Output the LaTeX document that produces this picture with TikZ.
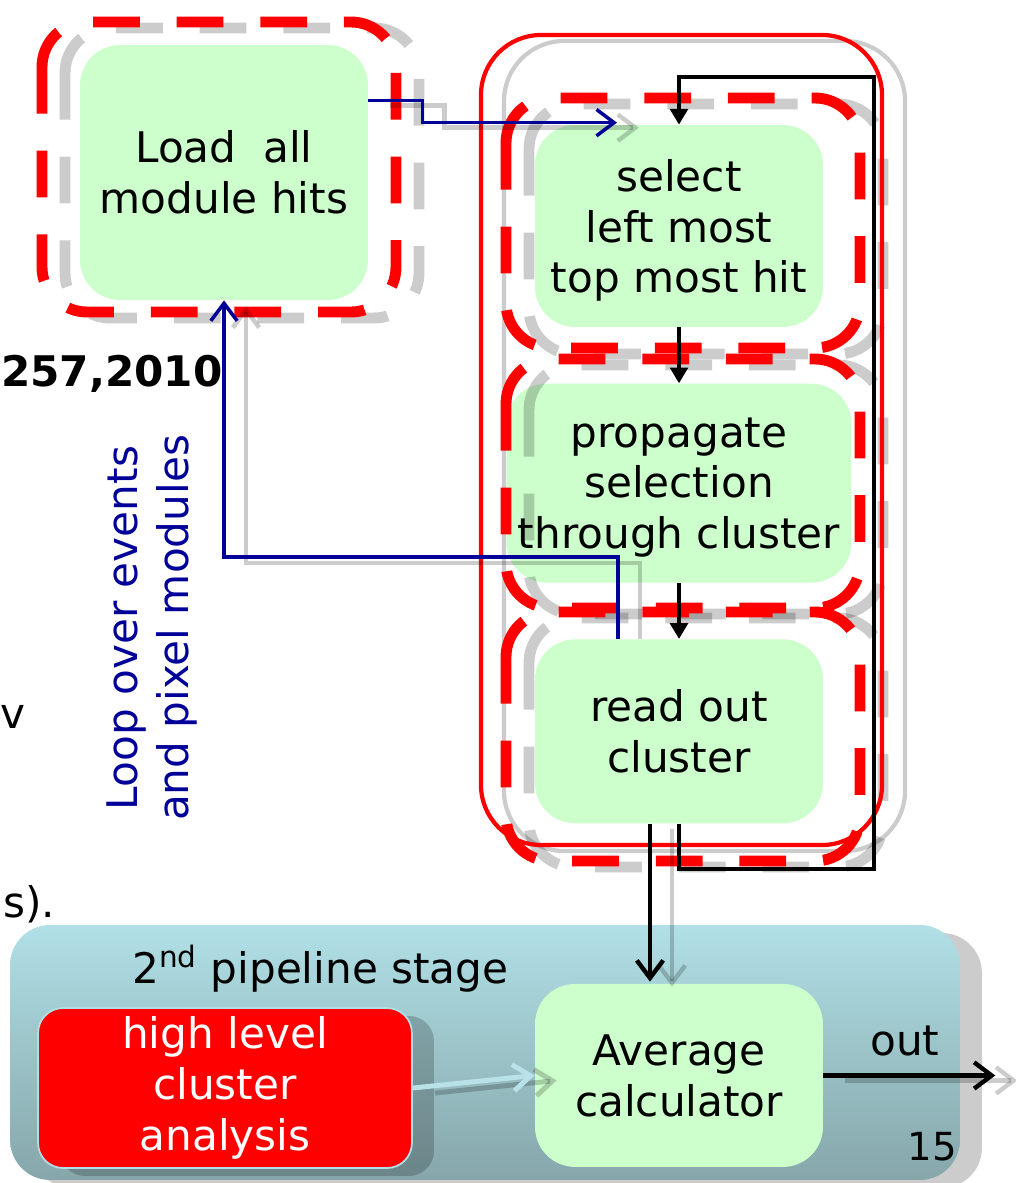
\documentclass[tikz,border=0pt]{standalone}
\usepackage{fontspec}
\setmainfont{DejaVu Sans}
\usetikzlibrary{positioning,arrows.meta,shadows}

\definecolor{stepgreen}{HTML}{CCFFCC}
\definecolor{loopnavy}{HTML}{000099}
\definecolor{stagetop}{HTML}{B0E0E6}
\definecolor{stagebottom}{HTML}{86A6AA}
\definecolor{linkcyan}{HTML}{B8E2E8}

\tikzset{
  stepbox/.style={fill=stepgreen, rounded corners=0.8cm, inner sep=0pt, align=center},
  stagebox/.style={rounded corners=0.8cm, top color=stagetop, bottom color=stagebottom,
    minimum width=19cm, minimum height=5.1cm, inner sep=0pt,
    drop shadow={shadow xshift=0.44cm, shadow yshift=-0.16cm, fill=black, opacity=0.2}},
  hlabox/.style={fill=red, draw=stagetop, line width=1pt, text=white, rounded corners=0.5cm,
    minimum width=7.48cm, minimum height=3.2cm, inner sep=0pt, align=center,
    drop shadow={shadow xshift=0.44cm, shadow yshift=-0.16cm, fill=black, opacity=0.2}},
  reddash/.style={draw=red, line width=6.2pt, dash pattern=on 26.6pt off 21pt, rounded corners=0.9cm},
  greydash/.style={reddash, draw=black, draw opacity=0.2},
  redframe/.style={draw=red, line width=2.4pt, rounded corners=1.2cm},
  greyframe/.style={redframe, draw=black, draw opacity=0.2},
  shadowline/.style={draw=black, draw opacity=0.2, line width=2.5pt},
  openhead/.style={-{Straight Barb[length=10pt,width=15pt]}},
  fillhead/.style={-{Triangle[length=9pt,width=10pt]}},
}

\begin{document}
\begin{tikzpicture}[x=0.02cm, y=-0.02cm, font=\fontsize{24}{29}\selectfont]
\useasboundingbox (0,0) rectangle (1015,1183);

% 2nd stage panel
\node[stagebox] (stage) at (485,1052.5) {};
\node[anchor=base west] (stagetitle) at (126,983) {2\textsuperscript{nd} pipeline stage};
\node[hlabox] (hla) at (225,1088) {high level\\cluster\\analysis};

% first stage steps
\node[stepbox, minimum width=5.76cm, minimum height=5.1cm] (load) at (224,172.5) {Load~~all\\module hits};
\node[stepbox, minimum width=5.76cm, minimum height=4.04cm, text depth=0pt] (select) at (679,226) {select\\left most\\top most hit};
\node[stepbox, below=1.12cm of select, minimum width=6.9cm, minimum height=3.98cm, text depth=0pt] (propagate) {propagate\\selection\\through cluster};
\node[stepbox, below=1.12cm of propagate, minimum width=5.76cm, minimum height=3.68cm] (readout) {read out\\cluster};
\node[stepbox, below=3.2cm of readout, minimum width=5.76cm, minimum height=3.66cm] (average) {Average\\calculator};

\coordinate (loopbr) at (874,869);
\coordinate (looptr) at (874,77);

% dashed frames
\draw[greydash, shift={(23,6)}] (42,22) rectangle (396,312);
\draw[greydash, shift={(23,6)}] (506,98) rectangle (860,348);
\draw[greydash, shift={(23,6)}] (506,359) rectangle (860,608);
\draw[greydash, shift={(23,6)}] (506,612) rectangle (860,861);
\draw[greyframe, shift={(23,6)}] (481,35) rectangle (882,845);
\draw[redframe] (481,35) rectangle (882,845);
\draw[reddash] (42,22) rectangle (396,312);
\draw[reddash] (506,98) rectangle (860,348);
\draw[reddash] (506,359) rectangle (860,608);
\draw[reddash] (506,612) rectangle (860,861);

% pipeline arrows
\draw[black, line width=2.3pt, fillhead] (select.south) -- (propagate.north);
\draw[black, line width=2.3pt, fillhead] (propagate.south) -- (readout.north);
\draw[black, line width=2.5pt, fillhead] (readout.south) |- (loopbr) -- (looptr) -| (select.north);

% loop over events
\draw[shadowline, openhead] ([shift={(22,61)}]load.north east) -- ++(54,0) |- ([shift={(-40,3)}]select.north);
\draw[loopnavy, line width=2pt, openhead] ([shift={(0,56)}]load.north east) -- ++(54,0) |- ([shift={(-62,-2)}]select.north);
\draw[shadowline, openhead] ([shift={(-39,0)}]readout.north) -- ++(0,-76) -| ([shift={(22,6)}]load.south);
\draw[loopnavy, line width=2pt, openhead] ([shift={(-61,0)}]readout.north) -- ++(0,-82) -| (load.south);

% into 2nd stage
\draw[shadowline, openhead] ([shift={(-7,5)}]readout.south) -- ([shift={(-7,3)}]average.north);
\draw[black, line width=2.5pt, openhead] ([shift={(-29,0)}]readout.south) -- ([shift={(-29,-2)}]average.north);
\draw[shadowline, line width=2.8pt, openhead] ([shift={(22,5)}]hla.east) -- ([shift={(22,5)}]average.west);
\draw[linkcyan, line width=2.8pt, openhead] (hla.east) -- (average.west);
\draw[shadowline, openhead] ([shift={(22,5)}]average.east) -- ++(172,0);
\draw[black, line width=2.5pt, openhead] (average.east) -- ++(172,0);
\node[anchor=base west] (outlabel) at (864,1055) {out};
\node[anchor=base east, font=\fontsize{22}{26}\selectfont] (pagenum) at (963,1160) {15};

% texts
\node[anchor=base west, font=\fontsize{24}{29}\selectfont\bfseries] (ref) at (-5,386) {257,2010};
\node[anchor=base west] (cutv) at (-6,728) {v};
\node[anchor=base west] (cuts) at (-3,917) {s).};
\node[loopnavy, rotate=90, align=center] (looplabel) at (152,628) {Loop over events\\and pixel modules};
\end{tikzpicture}
\end{document}
